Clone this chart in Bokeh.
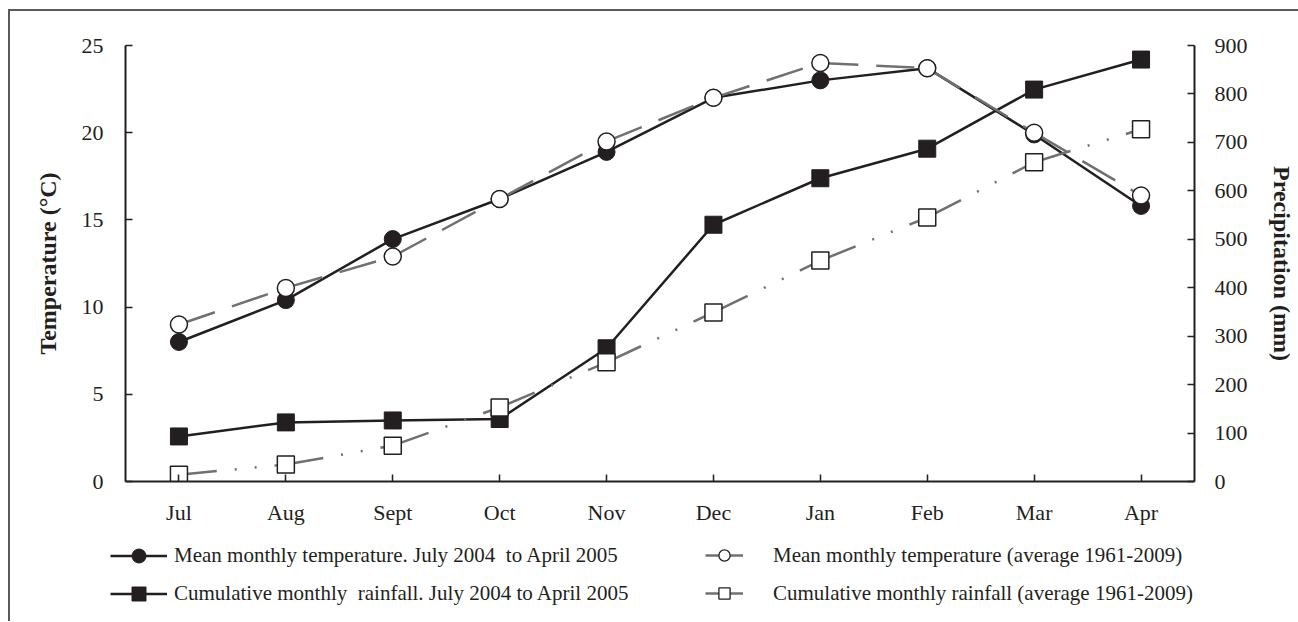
from bokeh.plotting import figure
from bokeh.models import Range1d, LinearAxis, FixedTicker, Legend, LegendItem, ColumnDataSource
from bokeh.layouts import column
from bokeh.embed import file_html
from bokeh.resources import INLINE

months = ["Jul", "Aug", "Sept", "Oct", "Nov", "Dec", "Jan", "Feb", "Mar", "Apr"]
temp_obs = [8.0, 10.4, 13.9, 16.2, 18.9, 22.0, 23.0, 23.7, 19.9, 15.8]
temp_avg = [9.0, 11.1, 12.9, 16.2, 19.5, 22.0, 24.0, 23.7, 20.0, 16.4]
rain_obs = [93, 122, 126, 129, 275, 530, 626, 687, 809, 871]
rain_avg = [14, 35, 74, 153, 246, 349, 456, 545, 659, 727]
legend_labels = [
    "Mean monthly temperature. July 2004  to April 2005",
    "Cumulative monthly  rainfall. July 2004 to April 2005",
    "Mean monthly temperature (average 1961-2009)",
    "Cumulative monthly rainfall (average 1961-2009)",
]

FONT = "Liberation Serif"
BLACK = "#231f20"
GRAY = "#707070"

xs = list(range(len(months)))

p = figure(width=1288, height=520, x_range=Range1d(-0.5, 9.5), y_range=Range1d(0, 25),
           output_backend="svg", toolbar_location=None,
           min_border_left=115, min_border_right=104, min_border_top=34, min_border_bottom=50,
           outline_line_color=None)
p.grid.visible = False
p.extra_y_ranges = {"rain": Range1d(0, 900)}

# x axis
xa = p.xaxis[0]
xa.ticker = FixedTicker(ticks=xs)
xa.major_label_overrides = {i: m for i, m in enumerate(months)}
xa.major_label_standoff = 18

# left axis
ya = p.yaxis[0]
ya.ticker = FixedTicker(ticks=[0, 5, 10, 15, 20, 25])
ya.axis_label = "Temperature (°C)"
ya.major_label_standoff = 22
ya.axis_label_standoff = 18

# right axis
ra = LinearAxis(y_range_name="rain", ticker=FixedTicker(ticks=list(range(0, 1000, 100))),
                axis_label="Precipitation (mm)")
ra.major_label_standoff = 20
ra.axis_label_standoff = 18
p.add_layout(ra, "right")

for ax in [xa, ya, ra]:
    ax.axis_line_color = BLACK
    ax.axis_line_width = 2
    ax.major_tick_line_color = BLACK
    ax.major_tick_line_width = 1.5
    ax.major_tick_in = 7
    ax.major_tick_out = 0
    ax.minor_tick_line_color = None
    ax.major_label_text_font = FONT
    ax.major_label_text_font_size = "22px"
    ax.major_label_text_color = BLACK
    ax.axis_label_text_font = FONT
    ax.axis_label_text_font_size = "24px"
    ax.axis_label_text_font_style = "bold"
    ax.axis_label_text_color = BLACK

# observed series (solid black)
p.line(xs, rain_obs, y_range_name="rain", line_color=BLACK, line_width=2.5)
p.scatter(xs, rain_obs, y_range_name="rain", marker="square", size=17,
          fill_color=BLACK, line_color=BLACK, line_width=1)
p.line(xs, temp_obs, line_color=BLACK, line_width=2.5)
p.scatter(xs, temp_obs, marker="circle", size=17, fill_color=BLACK, line_color=BLACK, line_width=1)

# average series (gray, dashed per segment)
seg_x = [[xs[i], xs[i + 1]] for i in range(len(xs) - 1)]
rain_seg = [[rain_avg[i], rain_avg[i + 1]] for i in range(len(xs) - 1)]
temp_seg = [[temp_avg[i], temp_avg[i + 1]] for i in range(len(xs) - 1)]
p.multi_line(seg_x, rain_seg, y_range_name="rain", line_color=GRAY, line_width=2.5,
             line_dash="38 18 2 18 2 18")
p.scatter(xs, rain_avg, y_range_name="rain", marker="square", size=17,
          fill_color="white", line_color=BLACK, line_width=1.5)
p.multi_line(seg_x, temp_seg, line_color=GRAY, line_width=2.5, line_dash="38 18")
p.scatter(xs, temp_avg, marker="circle", size=17, fill_color="white", line_color=BLACK, line_width=1.5)

# legend figure below the chart
lf = figure(width=1288, height=90, x_range=Range1d(0, 1), y_range=Range1d(0, 1),
            output_backend="svg", toolbar_location=None, outline_line_color=None,
            min_border=0, min_border_left=0, min_border_right=0, min_border_top=0,
            min_border_bottom=0, frame_align=False)
lf.axis.visible = False
lf.grid.visible = False

# proxy glyphs for the legend (single point outside the legend figure's view)
hidden = dict(x=[-5], y=[-5])
def proxy(lc, marker, fill, lw):
    ln = lf.line(x="x", y="y", source=ColumnDataSource(hidden), line_color=lc, line_width=2.5)
    mk = lf.scatter(x="x", y="y", source=ColumnDataSource(hidden), marker=marker, size=12,
                    fill_color=fill, line_color=BLACK, line_width=lw)
    return [ln, mk]

r1 = proxy(BLACK, "circle", BLACK, 1)
r2 = proxy(BLACK, "square", BLACK, 1)
r3 = proxy(GRAY, "circle", "white", 1.3)
r4 = proxy(GRAY, "square", "white", 1.3)

common = dict(orientation="vertical", label_height=20, padding=0, margin=0,
              border_line_color=None, background_fill_alpha=0,
              label_text_font=FONT, label_text_font_size="21px", label_text_color=BLACK)
leg1 = Legend(items=[LegendItem(label=legend_labels[0], renderers=r1),
                     LegendItem(label=legend_labels[1], renderers=r2)],
              location=(100, 10), glyph_width=57, glyph_height=35, spacing=3,
              label_standoff=7, **common)
leg2 = Legend(items=[LegendItem(label=legend_labels[2], renderers=r3),
                     LegendItem(label=legend_labels[3], renderers=r4)],
              location=(695, 14), glyph_width=38, glyph_height=28, spacing=10,
              label_standoff=30, **common)
lf.add_layout(leg1, "center")
lf.add_layout(leg2, "center")

layout = column(p, lf, spacing=0,
                styles={"margin-left": "8px", "margin-top": "9px",
                        "border-left": "2px solid #5a5a5a", "border-top": "2px solid #5a5a5a"})

open("out.html", "w").write(file_html(layout, INLINE))
